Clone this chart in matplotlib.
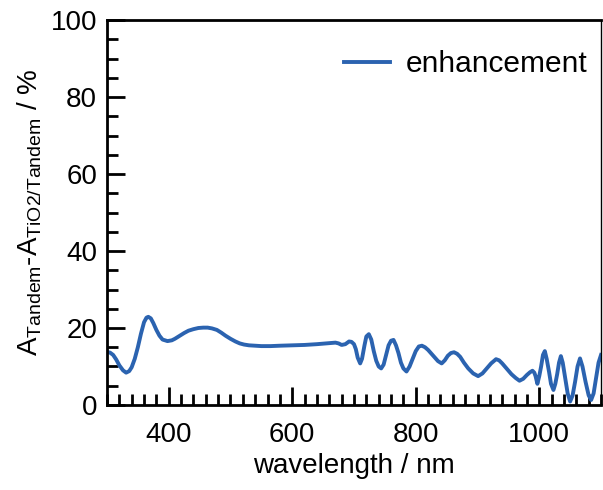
import numpy as np
import matplotlib.pyplot as plt
from matplotlib.ticker import MultipleLocator

plt.rcParams['font.family'] = 'Liberation Sans'
plt.rcParams['mathtext.fontset'] = 'custom'
plt.rcParams['mathtext.rm'] = 'Liberation Sans'
plt.rcParams['mathtext.it'] = 'Liberation Sans'

wavelength = [300, 305, 310, 315, 320, 326, 331, 336, 340, 345, 350, 355, 360, 364,
              367, 371, 375, 380, 385, 390, 398, 405, 410, 418, 425, 432, 440, 448,
              456, 463, 470, 478, 485, 492, 500, 508, 515, 522, 530, 540, 550, 565,
              580, 600, 620, 640, 661, 670, 675, 680, 686, 692, 696, 700, 703, 706,
              710, 713, 717, 720, 724, 728, 732, 736, 740, 744, 748, 752, 756, 760,
              764, 768, 772, 776, 780, 785, 790, 795, 800, 805, 810, 815, 820, 825,
              830, 836, 842, 847, 852, 857, 862, 867, 872, 878, 885, 893, 901, 908,
              915, 922, 930, 935, 940, 947, 955, 962, 968, 974, 980, 985, 989, 992,
              994, 997, 1000, 1003, 1006, 1009, 1012, 1016, 1019, 1023, 1026, 1029,
              1032, 1035, 1038, 1042, 1046, 1050, 1054, 1058, 1062, 1066, 1070, 1075,
              1080, 1084, 1088, 1092, 1096, 1100]
enhancement = [13.8, 13.6, 13.0, 11.8, 10.3, 9.0, 8.4, 8.8, 9.8, 12.0, 15.0, 18.5,
               21.5, 22.7, 22.9, 22.5, 21.3, 19.5, 18.0, 17.0, 16.6, 16.8, 17.2,
               18.0, 18.7, 19.3, 19.7, 20.0, 20.1, 20.1, 19.9, 19.5, 18.8, 18.0,
               17.2, 16.5, 16.0, 15.7, 15.5, 15.4, 15.3, 15.3, 15.4, 15.5, 15.6, 15.8,
               16.1, 16.2, 16.0, 15.6, 15.8, 16.5, 16.4, 15.8, 14.5, 12.3, 10.8, 12.0,
               15.5, 17.8, 18.4, 17.0, 14.0, 11.5, 10.0, 9.5, 10.5, 13.0, 15.5, 16.7,
               16.9, 15.5, 13.5, 11.0, 9.5, 8.7, 10.0, 12.0, 14.0, 15.2, 15.4, 15.0,
               14.3, 13.4, 12.5, 11.4, 10.8, 11.6, 12.8, 13.5, 13.7, 13.3, 12.5, 11.0,
               9.5, 8.2, 7.5, 8.2, 9.5, 10.8, 11.9, 11.6, 10.8, 9.5, 8.0, 7.0, 6.3,
               6.8, 7.8, 8.5, 8.9, 8.4, 7.5, 5.5, 7.5, 10.0, 13.0, 14.0, 12.0, 8.5,
               5.5, 3.9, 5.5, 8.0, 11.0, 12.7, 11.0, 7.0, 3.0, 0.9, 2.5, 6.0, 10.0,
               12.1, 10.0, 6.0, 2.5, 1.3, 3.0, 7.0, 11.0, 13.0]

fig = plt.figure(figsize=(6.03, 4.9), dpi=100)
ax = fig.add_axes([0.1774, 0.1735, 0.8193, 0.7855])

ax.plot(wavelength, enhancement, color='#2b63b0', lw=2.8, label='enhancement',
        solid_joinstyle='round')

ax.set_xlim(300, 1100)
ax.set_ylim(0, 100)
ax.xaxis.set_major_locator(MultipleLocator(200))
ax.xaxis.set_minor_locator(MultipleLocator(20))
ax.yaxis.set_major_locator(MultipleLocator(20))
ax.yaxis.set_minor_locator(MultipleLocator(5))
ax.tick_params(which='both', direction='in', width=2, labelsize=20, top=False, right=False)
ax.tick_params(which='major', length=13)
ax.tick_params(which='minor', length=8)
ax.tick_params(axis='y', pad=7)
ax.tick_params(axis='x', pad=12)
for s in ['left', 'bottom', 'top']:
    ax.spines[s].set_linewidth(2)
ax.spines['right'].set_linewidth(1)

ax.set_xlabel('wavelength / nm', fontsize=20, labelpad=4)
ax.set_ylabel(r'$\mathregular{A_{Tandem}}$-$\mathregular{A_{TiO2/Tandem}}$ / %', fontsize=20, labelpad=5)

ax.legend(loc='center right', bbox_to_anchor=(0.972, 0.886), frameon=False,
          fontsize=21.5, handlelength=1.55, handletextpad=0.5,
          borderaxespad=0, borderpad=0)

fig.savefig('out.png', dpi=100)
